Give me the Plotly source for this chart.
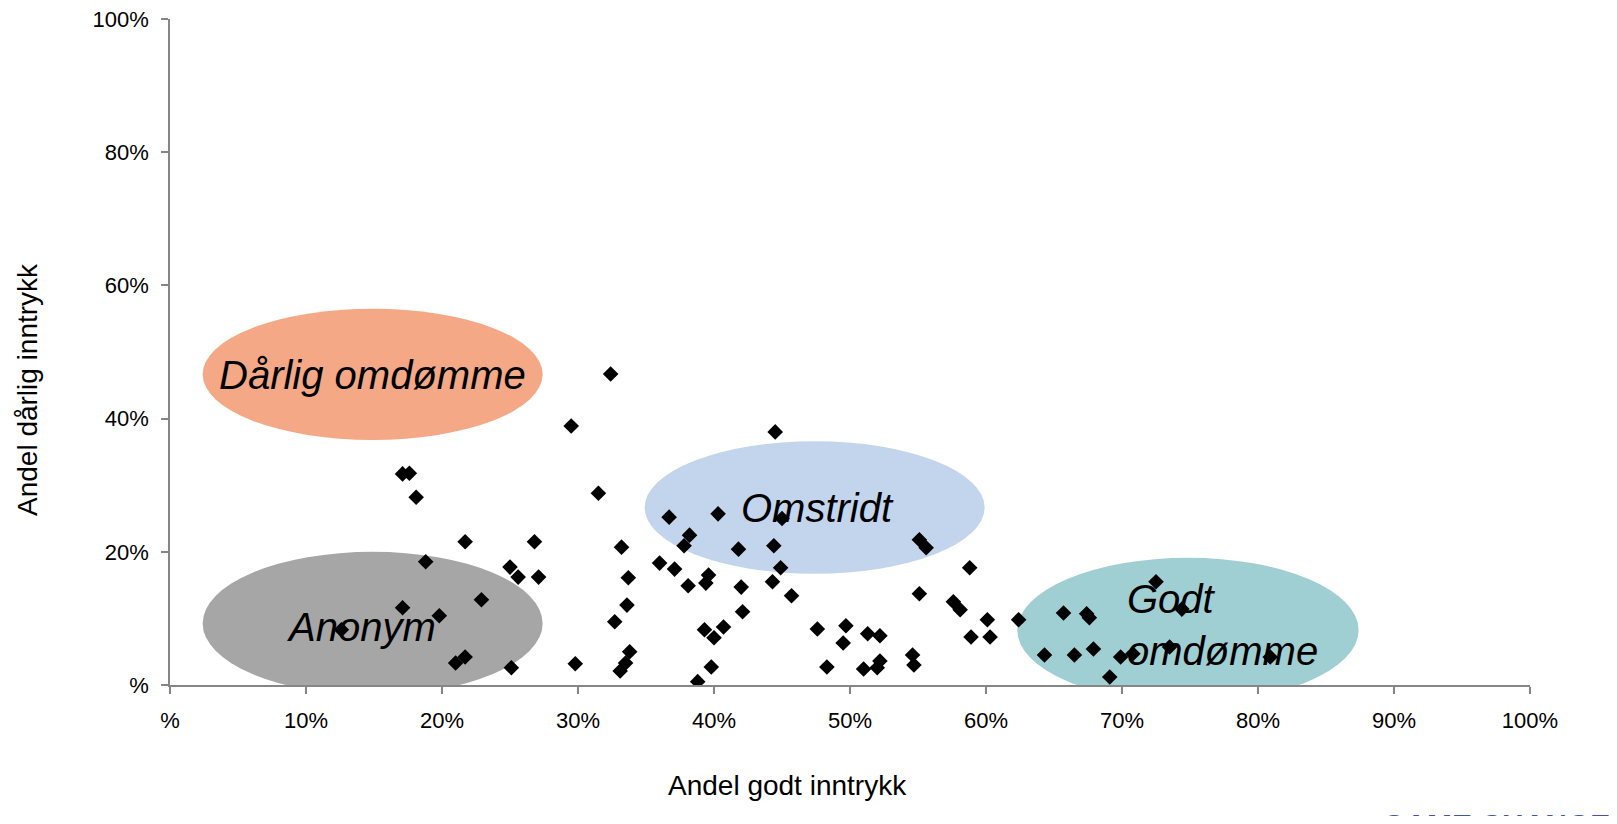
import plotly.graph_objects as go

# Data: share good impression (x, %) and share bad impression (y, %)
godt = [12.6, 17.1, 17.1, 17.6, 18.1, 18.8, 19.8, 21.7, 21.7, 21.0, 22.9, 25.0, 25.6, 25.1,
        26.8, 27.1, 29.5, 29.8, 31.5, 32.4, 33.2, 32.7, 33.6, 33.7, 33.8, 33.5, 33.1, 36.0,
        36.7, 37.1, 37.8, 38.2, 38.1, 38.8, 39.4, 39.6, 39.3, 40.0, 39.8, 40.3, 40.7, 41.8,
        42.0, 42.1, 44.5, 44.4, 44.3, 45.0, 44.9, 45.7, 47.6, 48.3, 49.7, 49.5, 51.3, 52.2,
        51.0, 52.0, 52.2, 55.1, 55.6, 55.1, 54.6, 54.7, 57.6, 58.1, 58.8, 58.9, 60.1, 60.3,
        62.4, 64.3, 65.7, 66.5, 67.4, 67.6, 67.9, 69.1, 69.9, 70.8, 72.5, 73.5, 74.4, 80.9]
darlig = [8.3, 11.6, 31.7, 31.8, 28.2, 18.5, 10.4, 21.5, 4.2, 3.3, 12.8, 17.7, 16.2, 2.6,
          21.5, 16.2, 38.9, 3.2, 28.8, 46.7, 20.7, 9.5, 12.0, 16.1, 5.0, 3.3, 2.1, 18.3,
          25.2, 17.4, 20.9, 22.5, 14.9, 0.5, 15.3, 16.5, 8.3, 7.1, 2.7, 25.7, 8.7, 20.4,
          14.7, 11.0, 38.0, 20.9, 15.5, 25.0, 17.6, 13.4, 8.4, 2.7, 8.9, 6.3, 7.7, 7.4,
          2.4, 2.6, 3.6, 21.8, 20.6, 13.7, 4.5, 3.0, 12.5, 11.3, 17.6, 7.2, 9.8, 7.2,
          9.8, 4.5, 10.8, 4.5, 10.7, 10.1, 5.4, 1.2, 4.2, 4.7, 15.5, 5.7, 11.4, 4.2]

x_ticks = [0, 10, 20, 30, 40, 50, 60, 70, 80, 90, 100]
x_ticktext = ["%", "10%", "20%", "30%", "40%", "50%", "60%", "70%", "80%", "90%", "100%"]
y_ticks = [0, 20, 40, 60, 80, 100]
y_ticktext = ["%", "20%", "40%", "60%", "80%", "100%"]

# Segment regions: label, x-range, y-range, colour
seg_labels = ["Dårlig omdømme", "Anonym", "Omstridt", "Godt<br>omdømme"]
seg_x0 = [2.4, 2.4, 34.9, 62.3]
seg_x1 = [27.4, 27.4, 59.9, 87.4]
seg_y0 = [36.8, -1.5, 16.7, -2.6]
seg_y1 = [56.5, 20.0, 36.6, 19.1]
seg_colors = ["#F5A886", "#A6A6A6", "#C3D5EC", "#9FCFD3"]
label_x = [14.9, 14.1, 47.6, 70.2]
label_y = [46.5, 8.7, 26.6, 9.0]
label_anchor = ["center", "center", "center", "left"]

FONT = "Liberation Sans, Arial, sans-serif"
AXIS_COLOR = "#868686"

# page body has an 8px margin: keep the whole figure inside the window
W, H = 1601, 808
L, T = 162, 11
PW, PH = 1360, 666

fig = go.Figure()
fig.add_trace(go.Scatter(
    x=godt, y=darlig, mode="markers",
    marker=dict(symbol="diamond", size=12, color="black", line=dict(width=0)),
    showlegend=False, hoverinfo="x+y"))

for i in range(len(seg_labels)):
    fig.add_shape(type="circle", xref="x", yref="y",
                  x0=seg_x0[i], x1=seg_x1[i], y0=seg_y0[i], y1=seg_y1[i],
                  fillcolor=seg_colors[i], line=dict(width=0), layer="below")
    fig.add_annotation(x=label_x[i], y=label_y[i], xref="x", yref="y",
                       text="<i>" + seg_labels[i] + "</i>", showarrow=False,
                       xanchor=label_anchor[i], align="left",
                       font=dict(family=FONT, size=40, color="black"))

fig.add_annotation(text="Andel godt inntrykk", xref="paper", yref="paper",
                   x=(787 - 170) / PW, y=-(785 - 685) / PH, showarrow=False,
                   xanchor="center", yanchor="middle",
                   font=dict(family=FONT, size=28, color="black"))
fig.add_annotation(text="Andel dårlig inntrykk", xref="paper", yref="paper",
                   x=-(170 - 28) / PW, y=(685 - 390) / PH, showarrow=False,
                   textangle=-90, xanchor="center", yanchor="middle",
                   font=dict(family=FONT, size=28, color="black"))
fig.add_annotation(text="<b>GAME CHANGER</b>", xref="paper", yref="paper",
                   x=(1380 - 170) / PW, y=-(806 - 685) / PH, showarrow=False,
                   xanchor="left", yanchor="top",
                   font=dict(family=FONT, size=30, color="#4155A8"))

axis_style = dict(range=[0, 100], showgrid=False, zeroline=False, showline=True,
                  linecolor=AXIS_COLOR, linewidth=1.5, automargin=False,
                  ticks="outside", ticklen=7, tickcolor=AXIS_COLOR, tickwidth=1.5,
                  ticklabelstandoff=8, ticklabeloverflow="allow",
                  tickfont=dict(family=FONT, size=22, color="black"))

fig.update_layout(
    width=W, height=H, autosize=False,
    margin=dict(l=L, r=W - L - PW, t=T, b=H - T - PH, pad=0, autoexpand=False),
    paper_bgcolor="white", plot_bgcolor="white",
    font=dict(family=FONT, size=22, color="black"),
    xaxis=dict(tickvals=x_ticks, ticktext=x_ticktext, **axis_style),
    yaxis=dict(tickvals=y_ticks, ticktext=y_ticktext, **axis_style),
)

fig.write_html("out.html")
